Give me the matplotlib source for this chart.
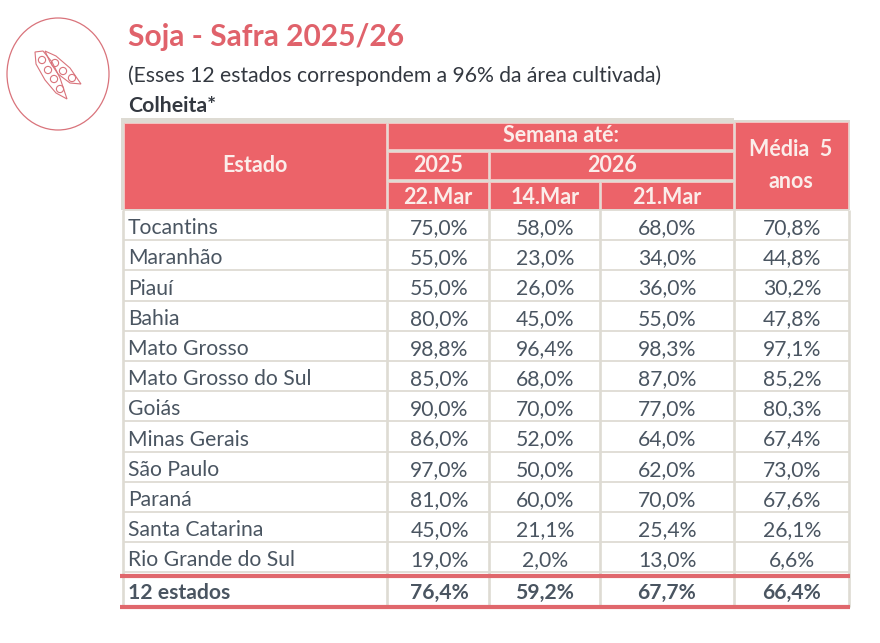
import matplotlib
matplotlib.use('Agg')
import matplotlib.pyplot as plt
from matplotlib.patches import Rectangle, Ellipse, Circle, Polygon

# Data
estados = ['Tocantins', 'Maranhão', 'Piauí', 'Bahia', 'Mato Grosso', 'Mato Grosso do Sul',
           'Goiás', 'Minas Gerais', 'São Paulo', 'Paraná', 'Santa Catarina', 'Rio Grande do Sul']
mar22_2025 = ['75,0%', '55,0%', '55,0%', '80,0%', '98,8%', '85,0%', '90,0%', '86,0%', '97,0%', '81,0%', '45,0%', '19,0%']
mar14_2026 = ['58,0%', '23,0%', '26,0%', '45,0%', '96,4%', '68,0%', '70,0%', '52,0%', '50,0%', '60,0%', '21,1%', '2,0%']
mar21_2026 = ['68,0%', '34,0%', '36,0%', '55,0%', '98,3%', '87,0%', '77,0%', '64,0%', '62,0%', '70,0%', '25,4%', '13,0%']
media_5 = ['70,8%', '44,8%', '30,2%', '47,8%', '97,1%', '85,2%', '80,3%', '67,4%', '73,0%', '67,6%', '26,1%', '6,6%']
total = ['12 estados', '76,4%', '59,2%', '67,7%', '66,4%']

RED = '#EC6369'
LINE_RED = '#E0676C'
TITLE = '#E0626B'
GRAY = '#DEDBD3'
TEXT = '#4A5561'
DARK = '#333840'
ICON = '#D9737B'

plt.rcParams['font.family'] = ['Lato', 'DejaVu Sans']

fig = plt.figure(figsize=(8.8, 6.43), dpi=100)
ax = fig.add_axes([0, 0, 1, 1])
ax.set_xlim(0, 880)
ax.set_ylim(643, 0)
ax.axis('off')

# column edges and body rows, in pixels
col_x = [123, 387, 489, 600, 734, 849]
row_h = 30.2
row0 = 210

# titles
ax.text(128, 37, 'Soja - Safra 2025/26', fontsize=21.5, fontweight='bold', color=TITLE, va='center')
ax.text(128, 76, '(Esses 12 estados correspondem a 96% da área cultivada)', fontsize=15.2, color=DARK, va='center')
ax.text(128, 106, 'Colheita*', fontsize=15.3, fontweight='bold', color=DARK, va='center')

# soy icon
ax.add_patch(Ellipse((58, 74), 102, 112, fill=False, ec=ICON, lw=0.9))
ax.add_patch(Polygon([(35, 52), (43, 51), (52, 62), (60, 78), (67, 99), (56, 93), (45, 80), (36, 64)],
                     fill=False, ec=ICON, lw=0.8))
ax.add_patch(Polygon([(45, 51), (56, 56), (70, 68), (81, 84), (70, 83), (58, 74), (50, 62)],
                     fill=False, ec=ICON, lw=0.8))
for cx, cy in [(42, 60), (48, 70), (54, 79), (60, 89), (55, 63), (63, 71), (72, 78)]:
    ax.add_patch(Circle((cx, cy), 3.6, fill=False, ec=ICON, lw=0.8))

# header
ax.add_patch(Rectangle((121, 118), 613, 92, fc=GRAY, ec='none'))
ax.add_patch(Rectangle((734, 120), 116, 90, fc=GRAY, ec='none'))
head = [(124, 123, 262, 86), (388, 123, 345, 26), (388, 152, 100, 27), (490, 152, 243, 27),
        (388, 182, 100, 27), (490, 182, 109, 27), (601, 182, 132, 27), (735, 122, 113, 87)]
for x, y, w, h in head:
    ax.add_patch(Rectangle((x, y), w, h, fc=RED, ec='#F6C9C6', lw=0.6))

hkw = dict(color='#FBEDEA', fontsize=15.5, fontweight='bold', ha='center', va='center')
ax.text(255, 166, 'Estado', **hkw)
ax.text(561, 136, 'Semana até:', **hkw)
ax.text(438, 166, '2025', **hkw)
ax.text(612, 166, '2026', **hkw)
ax.text(438, 197, '22.Mar', **hkw)
ax.text(545, 197, '14.Mar', **hkw)
ax.text(667, 197, '21.Mar', **hkw)
ax.text(791, 150, 'Média  5', **hkw)
ax.text(791, 182, 'anos', **hkw)

# body grid
for i in range(len(estados) + 1):
    y = row0 + i * row_h
    ax.plot([123, 849], [y, y], color=GRAY, lw=1.3, solid_capstyle='butt')
bottom = 607
for x in col_x:
    ax.plot([x, x], [row0, bottom], color=GRAY, lw=1.9, solid_capstyle='butt')

# body text
value_x = [439.5, 545, 667, 792]
for i, nome in enumerate(estados):
    y = row0 + (i + 0.6) * row_h
    ax.text(128, y, nome, fontsize=15.2, color=TEXT, va='center')
    for x, col in zip(value_x, [mar22_2025, mar14_2026, mar21_2026, media_5]):
        ax.text(x, y, col[i], fontsize=15.2, color=TEXT, va='center', ha='center')

# total row
ax.text(128, 593, total[0], fontsize=15.2, fontweight='bold', color=TEXT, va='center')
for x, v in zip(value_x, total[1:]):
    ax.text(x, 593, v, fontsize=15.2, fontweight='bold', color=TEXT, va='center', ha='center')
ax.plot([120, 850], [576, 576], color=LINE_RED, lw=3, solid_capstyle='butt')
ax.plot([120, 850], [607, 607], color=LINE_RED, lw=3, solid_capstyle='butt')

fig.savefig('out.png', dpi=100)
